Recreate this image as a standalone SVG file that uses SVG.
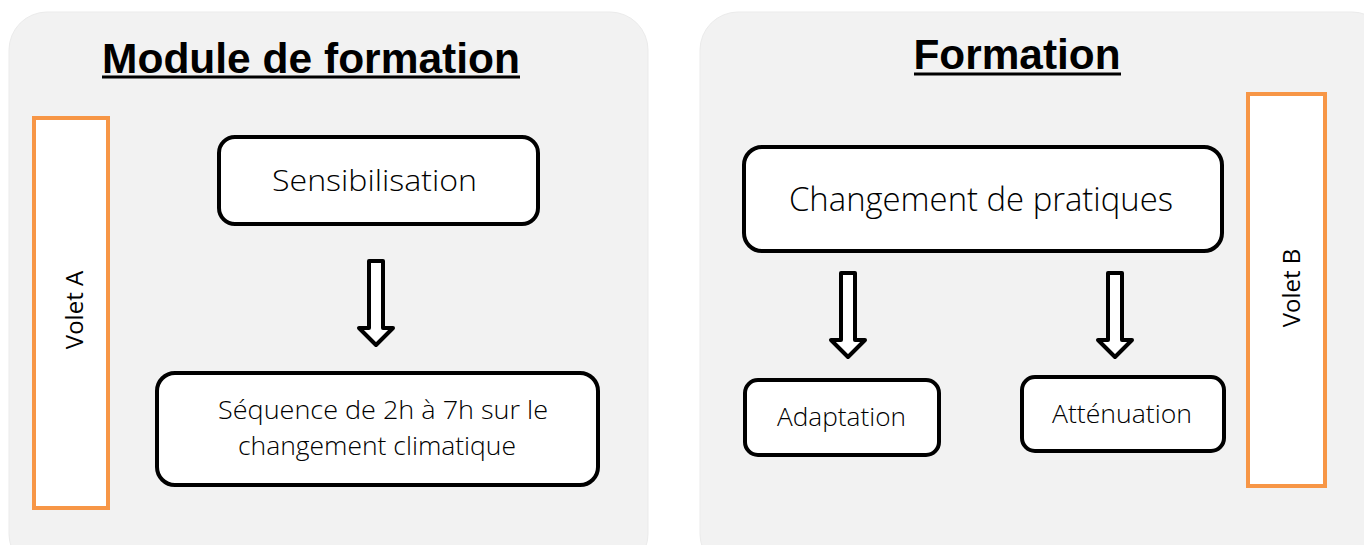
<svg xmlns="http://www.w3.org/2000/svg" width="1364" height="545" viewBox="0 0 1364 545">
<style>
.panel{fill:#f2f2f2;stroke:#ebebeb;stroke-width:1}
.volet{fill:#ffffff;stroke:#f79646;stroke-width:4}
.node{fill:#ffffff;stroke:#000000;stroke-width:4}
.arrow{fill:#ffffff;stroke:#000000;stroke-width:4;stroke-linejoin:round}
.title{font-family:"Liberation Sans",Arial,sans-serif;font-weight:bold;font-size:42px;fill:#000}
.lbl{font-family:"Open Sans","Noto Sans",sans-serif;font-weight:300;fill:#000;text-anchor:middle}
.vlbl{font-family:"Open Sans","Noto Sans",sans-serif;font-size:24px;fill:#000;text-anchor:middle}
</style>
<rect x="0" y="0" width="1364" height="545" fill="#ffffff"/>
<g id="panel-left">
<rect class="panel" x="9" y="12" width="639" height="560" rx="38"/>
<text class="title" x="311" y="73" text-anchor="middle" textLength="418" lengthAdjust="spacingAndGlyphs">Module de formation</text>
<line x1="102" y1="77" x2="520" y2="77" stroke="#000" stroke-width="3"/>
</g>
<g id="panel-right">
<rect class="panel" x="700" y="12" width="690" height="560" rx="38"/>
<text class="title" x="1017" y="69" text-anchor="middle" textLength="207" lengthAdjust="spacingAndGlyphs">Formation</text>
<line x1="914" y1="74" x2="1121" y2="74" stroke="#000" stroke-width="3"/>
</g>
<g id="volet-a">
<rect class="volet" x="34" y="118" width="74" height="390"/>
<text class="vlbl" transform="translate(83 310) rotate(-90)">Volet A</text>
</g>
<g id="volet-b">
<rect class="volet" x="1248" y="94" width="77" height="392"/>
<text class="vlbl" transform="translate(1300 288) rotate(-90)">Volet B</text>
</g>
<g id="sensibilisation">
<rect class="node" x="219" y="137" width="319" height="87" rx="16"/>
<text class="lbl" x="374.5" y="191" font-size="30" textLength="205" lengthAdjust="spacingAndGlyphs">Sensibilisation</text>
</g>
<g id="sequence">
<rect class="node" x="157" y="373" width="441" height="112" rx="18"/>
<text class="lbl" x="383" y="419" font-size="25" textLength="330" lengthAdjust="spacingAndGlyphs">Séquence de 2h à 7h sur le</text>
<text class="lbl" x="377" y="455" font-size="25" textLength="278" lengthAdjust="spacingAndGlyphs">changement climatique</text>
</g>
<g id="changement">
<rect class="node" x="744" y="147" width="478" height="104" rx="18"/>
<text class="lbl" x="981" y="211" font-size="33" textLength="384" lengthAdjust="spacingAndGlyphs">Changement de pratiques</text>
</g>
<g id="adaptation">
<rect class="node" x="745" y="380" width="194" height="75" rx="13"/>
<text class="lbl" x="841.5" y="426" font-size="25" textLength="129" lengthAdjust="spacingAndGlyphs">Adaptation</text>
</g>
<g id="attenuation">
<rect class="node" x="1022" y="377" width="202" height="74" rx="13"/>
<text class="lbl" x="1122" y="423" font-size="25" textLength="140" lengthAdjust="spacingAndGlyphs">Atténuation</text>
</g>
<g id="connectors">
<path class="arrow" d="M369 261 H383 V328 H393 L376 345 L359 328 H369 Z"/>
<path class="arrow" d="M841 273 H855 V340 H865 L848 357 L831 340 H841 Z"/>
<path class="arrow" d="M1108 273 H1122 V340 H1132 L1115 357 L1098 340 H1108 Z"/>
</g>
</svg>
